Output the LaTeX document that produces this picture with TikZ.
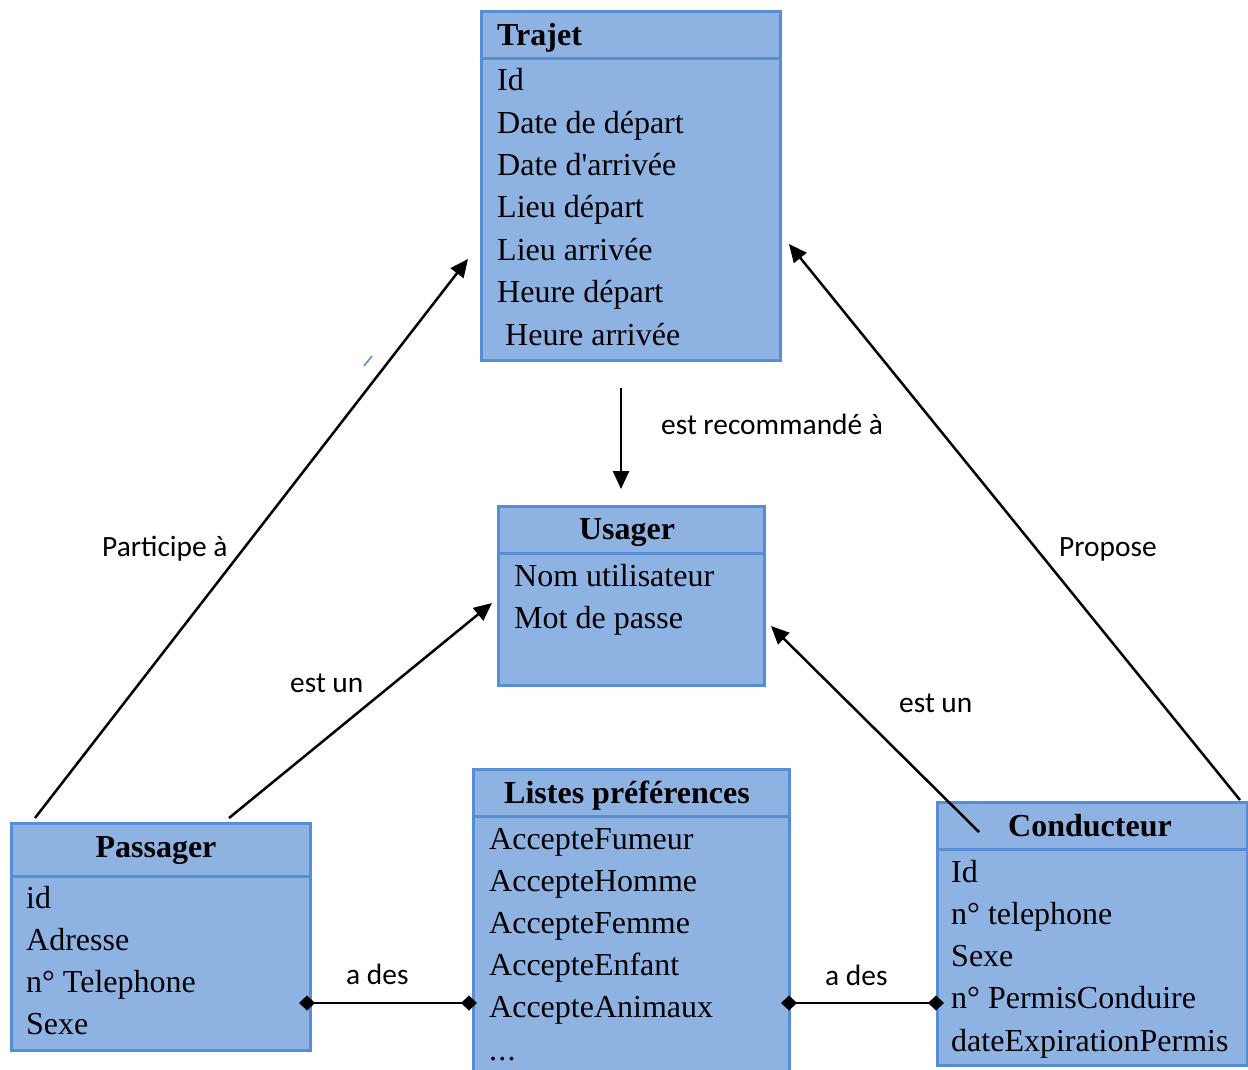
\documentclass[tikz,border=0pt]{standalone}
\usepackage{fontspec}
\setmainfont{Liberation Serif}
\newfontfamily\labelfont{Carlito}
\usetikzlibrary{arrows.meta}
\definecolor{boxfill}{RGB}{142,179,226}
\definecolor{boxedge}{RGB}{85,142,213}

\begin{document}
\begin{tikzpicture}[x=1pt,y=-1pt,
  umlbox/.style={draw=boxedge, fill=boxfill, line width=3pt, outer sep=0pt, inner sep=0pt, anchor=north west},
  sepline/.style={draw=boxedge, line width=3pt},
  field/.style={anchor=base west, inner sep=0pt, font=\fontsize{32}{38}\selectfont},
  head/.style={anchor=base, inner sep=0pt, font=\fontsize{32}{38}\selectfont\bfseries},
  rel/.style={line width=2.5pt, -{Triangle[length=18pt,width=16pt]}},
  agg/.style={line width=2.5pt, {Diamond[length=16pt,width=15pt]}-{Diamond[length=16pt,width=15pt]}},
  lbl/.style={anchor=base west, inner sep=0pt, font=\labelfont\fontsize{29.4}{34}\selectfont}
]
\useasboundingbox (0,0) rectangle (1248,1070);

% ---------- classes ----------
% Trajet
\node[umlbox, minimum width=299pt, minimum height=348pt] (trajet) at (481,12) {};
\draw[sepline] (481,59) -- (780,59);
\node[head, anchor=base west] (trajet-h) at (497,46) {Trajet};
\foreach \t [count=\i] in {Id, Date de départ, Date d\textquotesingle arrivée, Lieu départ, Lieu arrivée, Heure départ}
  \node[field] (trajet-\i) at (497,{91+42.3*(\i-1)}) {\t};
\node[field] (trajet-7) at (505,345) {Heure arrivée};

% Usager
\node[umlbox, minimum width=266pt, minimum height=179pt] (usager) at (498,506) {};
\draw[sepline] (498,553) -- (764,553);
\node[head] (usager-h) at (627,539) {Usager};
\node[field] (usager-1) at (514,586) {Nom utilisateur};
\node[field] (usager-2) at (514,628) {Mot de passe};

% Passager
\node[umlbox, minimum width=299pt, minimum height=227pt] (passager) at (11,823) {};
\draw[sepline] (11,876) -- (310,876);
\node[head] (passager-h) at (156,857) {Passager};
\foreach \t [count=\i] in {id, Adresse, n° Telephone, Sexe}
  \node[field] (passager-\i) at (26,{908+42.3*(\i-1)}) {\t};

% Listes préférences (runs past the lower edge)
\node[umlbox, minimum width=316pt, minimum height=320pt] (listes) at (473,769) {};
\draw[sepline] (473,816) -- (789,816);
\node[head] (listes-h) at (627,803) {Listes préférences};
\foreach \t [count=\i] in {AccepteFumeur, AccepteHomme, AccepteFemme, AccepteEnfant, AccepteAnimaux}
  \node[field] (listes-\i) at (489,{849+42.2*(\i-1)}) {\t};
\node[field] (listes-6) at (489,1060) {.\kern1.2pt.\kern1.2pt.};

% Conducteur
\node[umlbox, minimum width=310pt, minimum height=263pt] (conducteur) at (937,802) {};
\draw[sepline] (937,849) -- (1247,849);
\node[head] (conducteur-h) at (1090,836) {Conducteur};
\foreach \t [count=\i] in {Id, n° telephone, Sexe, n° PermisConduire, dateExpirationPermis}
  \node[field] (conducteur-\i) at (951,{882+42.3*(\i-1)}) {\t};

% ---------- connector ends ----------
\coordinate (p-top)  at (35,818);
\coordinate (t-left) at (468,259);
\coordinate (p-mid)  at (229,818);
\coordinate (u-left) at (492,603);
\coordinate (t-bot)  at (621,388);
\coordinate (u-top)  at (621,489);
\coordinate (c-left) at (979,832);
\coordinate (u-right) at (771,626);
\coordinate (c-right) at (1240,800);
\coordinate (t-right) at (789,244);
\coordinate (p-east) at (299,1003);
\coordinate (l-west) at (477,1003);
\coordinate (l-east) at (781,1003);
\coordinate (c-west) at (944,1003);

% ---------- relations ----------
\draw[rel] (p-top) -- (t-left);
\draw[rel] (p-mid) -- (u-left);
\draw[rel] (t-bot) -- (u-top);
\draw[rel] (c-left) -- (u-right);
\draw[rel] (c-right) -- (t-right);
\draw[agg] (p-east) -- (l-west);
\draw[agg] (l-east) -- (c-west);

% small stroke beside the left relation
\draw[boxedge, line width=1.6pt] (364,366) -- (372,356);

% ---------- labels ----------
\node[lbl] (lab-rec)  at (661,434) {est recommandé à};
\node[lbl] (lab-part) at (102,556) {Participe à};
\node[lbl] (lab-est1) at (290,692) {est un};
\node[lbl] (lab-est2) at (899,712) {est un};
\node[lbl] (lab-prop) at (1059,556) {Propose};
\node[lbl] (lab-ades1) at (346,984) {a des};
\node[lbl] (lab-ades2) at (825,985) {a des};
\end{tikzpicture}
\end{document}
